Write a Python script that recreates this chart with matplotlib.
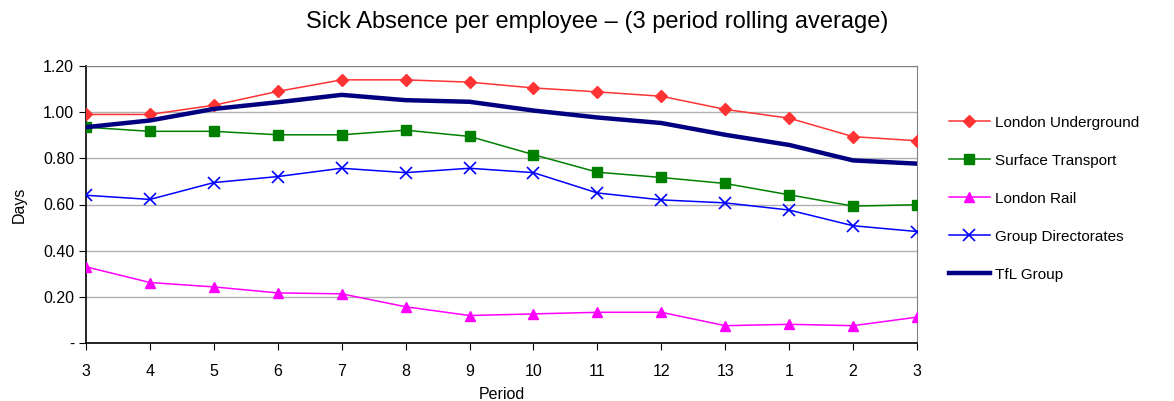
import matplotlib
matplotlib.use("Agg")
import matplotlib.pyplot as plt
from matplotlib.ticker import FuncFormatter

plt.rcParams['font.family'] = ['Liberation Sans', 'DejaVu Sans']

periods = ["3", "4", "5", "6", "7", "8", "9", "10", "11", "12", "13", "1", "2", "3"]
london_underground = [0.99, 0.99, 1.03, 1.09, 1.14, 1.14, 1.13, 1.105, 1.088, 1.069, 1.012, 0.974, 0.894, 0.876]
surface_transport = [0.935, 0.917, 0.917, 0.902, 0.902, 0.922, 0.895, 0.816, 0.740, 0.717, 0.691, 0.642, 0.593, 0.599]
london_rail = [0.330, 0.262, 0.243, 0.217, 0.213, 0.157, 0.119, 0.126, 0.133, 0.133, 0.075, 0.081, 0.075, 0.112]
group_directorates = [0.640, 0.622, 0.695, 0.721, 0.757, 0.738, 0.757, 0.738, 0.650, 0.620, 0.607, 0.576, 0.508, 0.483]
tfl_group = [0.935, 0.964, 1.014, 1.043, 1.075, 1.052, 1.045, 1.007, 0.977, 0.953, 0.902, 0.858, 0.791, 0.777]

fig = plt.figure(figsize=(11.74, 4.01), dpi=100)
ax = fig.add_axes([86/1174, 1 - 343/401, (917-86)/1174, (343-66)/401])

x = list(range(len(periods)))
ax.plot(x, london_underground, color='#FF3333', lw=1.1, marker='D', ms=6.5, label='London Underground', zorder=3)
ax.plot(x, surface_transport, color='#008000', lw=1.1, marker='s', ms=6.5, label='Surface Transport', zorder=3)
ax.plot(x, london_rail, color='#FF00FF', lw=1.1, marker='^', ms=7.5, label='London Rail', zorder=3)
ax.plot(x, group_directorates, color='#0000FF', lw=1.1, marker='x', ms=8, mew=1.2, label='Group Directorates', zorder=3)
ax.plot(x, tfl_group, color='#000080', lw=3.2, label='TfL Group', zorder=4)

ax.set_xlim(0, len(periods) - 1)
ax.set_ylim(0, 1.2)
ax.set_xticks(x)
ax.set_xticklabels(periods)
ax.set_yticks([0, 0.2, 0.4, 0.6, 0.8, 1.0, 1.2])
ax.yaxis.set_major_formatter(FuncFormatter(lambda v, p: '-' if abs(v) < 1e-9 else f"{v:.2f}"))
ax.grid(axis='y', color='#B0B0B0', lw=1)
ax.set_axisbelow(True)
for s in ['top', 'right']:
    ax.spines[s].set_color('#808080')
for s in ['left', 'bottom']:
    ax.spines[s].set_color('black')
    ax.spines[s].set_linewidth(1.2)
ax.tick_params(axis='both', labelsize=11.5, length=5, color='black', direction='out')
ax.tick_params(axis='x', pad=10)
ax.set_xlabel('Period', fontsize=11.5, labelpad=6)
ax.set_ylabel('Days', fontsize=11.5, labelpad=12)

fig.text(597/1174, 1 - 22/401, 'Sick Absence per employee \u2013 (3 period rolling average)',
         ha='center', va='center', fontsize=17)

leg = ax.legend(loc='upper left', bbox_to_anchor=(935/1174, 1 - 102/401), bbox_transform=fig.transFigure,
                frameon=False, fontsize=11, handlelength=2.7, labelspacing=1.57, handletextpad=0.3)

fig.savefig('out.png', dpi=100)
